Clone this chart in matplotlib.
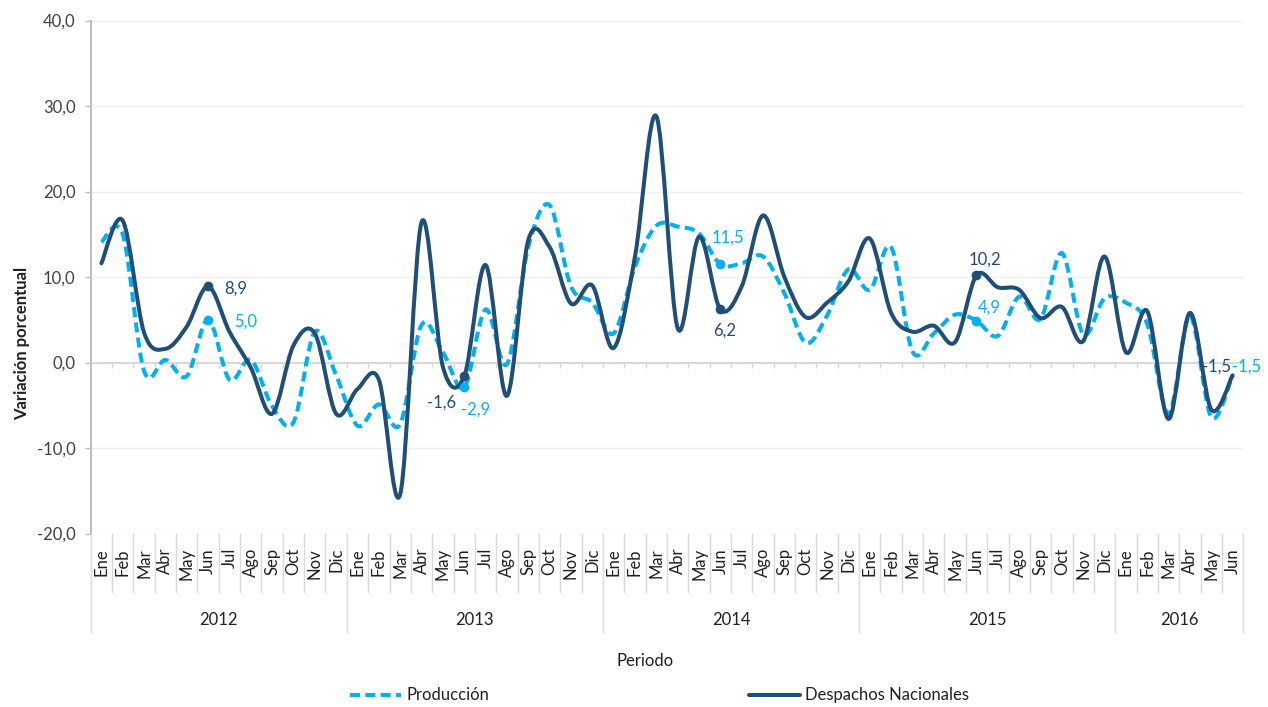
import numpy as np
import matplotlib
matplotlib.use('Agg')
import matplotlib.pyplot as plt
from matplotlib.path import Path
from matplotlib.patches import PathPatch
from matplotlib.lines import Line2D
import matplotlib.transforms as mtransforms

plt.rcParams['font.family'] = ['Lato', 'DejaVu Sans']

# ---------------- data ----------------
months = ['Ene', 'Feb', 'Mar', 'Abr', 'May', 'Jun', 'Jul', 'Ago', 'Sep', 'Oct', 'Nov', 'Dic']
years = ['2012', '2013', '2014', '2015', '2016']
year_counts = [12, 12, 12, 12, 6]
month_labels = months * 4 + months[:6]

produccion = [14.1, 15.0, -1.0, 0.3, -1.6, 5.0, -2.0, 0.3, -5.1, -7.0, 3.6, -1.5,
              -7.4, -4.9, -7.2, 4.4, 1.2, -2.9, 6.2, -0.2, 13.5, 18.4, 8.9, 7.0,
              3.4, 11.2, 16.0, 15.9, 15.1, 11.5, 11.6, 12.4, 8.1, 2.3, 5.5, 10.9,
              8.5, 13.5, 1.3, 3.4, 5.6, 4.9, 3.1, 7.7, 5.1, 12.8, 3.3, 7.5,
              7.0, 4.5, -6.0, 5.4, -6.4, -1.5]

despachos = [11.6, 16.6, 3.5, 1.6, 4.2, 8.9, 3.6, -0.6, -6.0, 2.0, 3.4, -6.0,
             -3.1, -2.0, -15.4, 16.4, -0.5, -1.6, 11.4, -3.9, 14.3, 13.5, 6.9, 9.0,
             1.7, 12.4, 28.8, 4.0, 14.7, 6.2, 8.9, 17.2, 10.0, 5.3, 7.0, 9.5,
             14.5, 5.8, 3.6, 4.3, 2.4, 10.2, 8.8, 8.5, 5.2, 6.5, 2.5, 12.4,
             1.2, 6.0, -6.6, 5.8, -5.5, -1.5]

labeled_idx = [5, 17, 29, 41, 53]
y_ticks = [-20, -10, 0, 10, 20, 30, 40]

DARK = '#1F4E79'
DARK_TXT = '#1F497D'
LIGHT = '#00B0F0'
GRID = '#EFEFEF'
SEP = '#D9D9D9'

W, H = 1268, 707
fig = plt.figure(figsize=(W / 100, H / 100), dpi=100)

left_px, right_px, top_px, bot_px = 90.7, 1243.3, 20.5, 533.5
ax = fig.add_axes([left_px / W, 1 - bot_px / H, (right_px - left_px) / W, (bot_px - top_px) / H])

n = len(despachos)
x = np.arange(n)


def smooth_path(xs, ys):
    xs = np.asarray(xs, float)
    ys = np.asarray(ys, float)
    m = len(xs)
    verts = [(xs[0], ys[0])]
    codes = [Path.MOVETO]
    for i in range(m - 1):
        x0, y0 = (xs[i - 1], ys[i - 1]) if i > 0 else (xs[i], ys[i])
        x3, y3 = (xs[i + 2], ys[i + 2]) if i + 2 < m else (xs[i + 1], ys[i + 1])
        c1 = (xs[i] + (xs[i + 1] - x0) / 6, ys[i] + (ys[i + 1] - y0) / 6)
        c2 = (xs[i + 1] - (x3 - xs[i]) / 6, ys[i + 1] - (y3 - ys[i]) / 6)
        verts += [c1, c2, (xs[i + 1], ys[i + 1])]
        codes += [Path.CURVE4] * 3
    return Path(verts, codes)


ax.set_xlim(-0.5, n - 0.5)
ax.set_ylim(-20, 40)
ax.set_yticks(y_ticks)
ax.set_yticklabels([f'{v:.1f}'.replace('.', ',') for v in y_ticks], fontsize=12, color='#404040')
ax.set_xticks([])
for s in ['top', 'right', 'bottom']:
    ax.spines[s].set_visible(False)
ax.spines['left'].set_color('#BFBFBF')
ax.spines['left'].set_linewidth(1.5)
ax.tick_params(axis='y', length=4, width=1, color='#BFBFBF', pad=7)
ax.yaxis.grid(True, color=GRID, lw=1)
ax.set_axisbelow(True)

# zero line with small tick marks
ax.axhline(0, color=SEP, lw=1.4, zorder=1)
bounds = np.arange(n + 1) - 0.5
ax.vlines(bounds[1:-1], -0.7, 0, color=SEP, lw=1, zorder=1)

# series
ax.add_patch(PathPatch(smooth_path(x, produccion), fill=False, edgecolor=LIGHT, lw=2.9,
                       linestyle=(0, (2.5, 1.3)), capstyle='butt', zorder=3))
ax.add_patch(PathPatch(smooth_path(x, despachos), fill=False, edgecolor=DARK, lw=2.9,
                       capstyle='round', joinstyle='round', zorder=4))

for i in labeled_idx[:-1]:
    ax.plot(x[i], produccion[i], 'o', color=LIGHT, ms=6, zorder=5)
    ax.plot(x[i], despachos[i], 'o', color=DARK, ms=6, zorder=6)

# data labels (offsets in pixels -> points)
def lab(i, vals, dx, dy, color, ha='center'):
    ax.annotate(f'{vals[i]:.1f}'.replace('.', ','), (x[i], vals[i]),
                xytext=(dx * 0.72, -dy * 0.72), textcoords='offset points',
                ha=ha, va='center', fontsize=12, color=color, zorder=7)

lab(5, despachos, 16, 2, DARK_TXT, ha='left')
lab(5, produccion, 26, 2, LIGHT, ha='left')
lab(17, despachos, -23, 26, DARK_TXT)
lab(17, produccion, 11, 22, LIGHT)
lab(29, produccion, 8, -27, LIGHT)
lab(29, despachos, 4, 21, DARK_TXT)
lab(41, despachos, 8, -16, DARK_TXT)
lab(41, produccion, 13, -13, LIGHT)
lab(53, despachos, -16, -9, DARK_TXT)
lab(53, produccion, 14, -9, LIGHT)

# category axis (months and years) below plot
blend = mtransforms.blended_transform_factory(ax.transData, fig.transFigure)


def fy(py):
    return 1 - py / H


for i, m in enumerate(month_labels):
    fig.text(x[i], fy(548), m, transform=blend, rotation=90, ha='center', va='top',
             fontsize=12, color='#202020')

year_starts = np.concatenate([[0], np.cumsum(year_counts)])
for b in bounds:
    is_year = np.isclose(b + 0.5, year_starts).any()
    bottom = 632 if is_year else 592
    fig.add_artist(Line2D([b, b], [fy(bot_px), fy(bottom)], transform=blend, color=SEP, lw=1))

for k, yr in enumerate(years):
    cx = (year_starts[k] + year_starts[k + 1]) / 2 - 0.5
    fig.text(cx, fy(620), yr, transform=blend, ha='center', va='center', fontsize=12, color='#202020')

fig.text(645 / W, fy(661), 'Periodo', ha='center', va='center', fontsize=12, color='#202020')
fig.text(22 / W, fy(343), 'Variación porcentual', rotation=90, ha='center', va='center',
         fontsize=12, fontweight='bold', color='#202020')

# legend
fig.add_artist(Line2D([350 / W, 401 / W], [fy(695), fy(695)], color=LIGHT, lw=2.9,
                      linestyle=(0, (2.5, 1.3))))
fig.text(406 / W, fy(695), 'Producción', ha='left', va='center', fontsize=12, color='#202020')
fig.add_artist(Line2D([749 / W, 800 / W], [fy(695), fy(695)], color=DARK, lw=2.9,
                      solid_capstyle='round'))
fig.text(805 / W, fy(695), 'Despachos Nacionales', ha='left', va='center', fontsize=12, color='#202020')

fig.savefig('out.png', dpi=100)
